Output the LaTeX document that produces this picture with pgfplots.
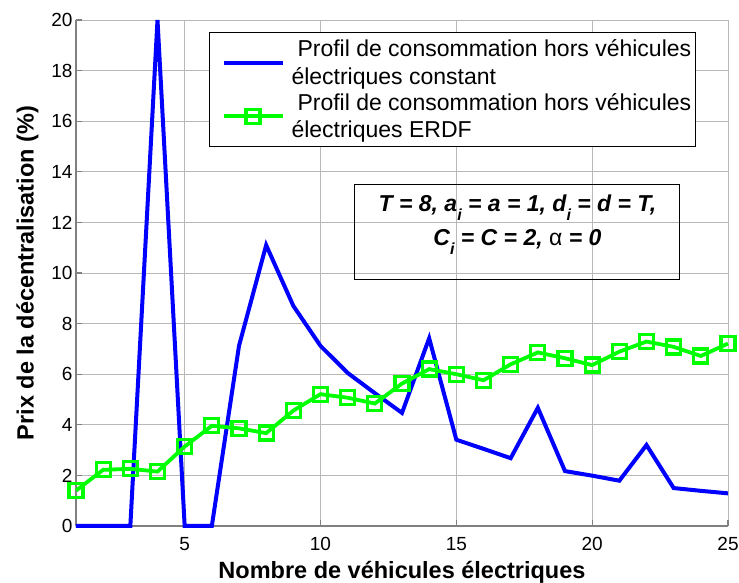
\documentclass[border=0pt]{standalone}
\usepackage{pgfplots}
\pgfplotsset{compat=1.18}
\usepackage{fontspec}
\setmainfont{Liberation Sans}

\definecolor{mblue}{RGB}{0,0,255}
\definecolor{mgreen}{RGB}{0,255,0}
\definecolor{axgrey}{RGB}{128,128,128}
\newcommand\sub[1]{\raisebox{-9pt}{\fontsize{16}{16}\selectfont #1}}

\begin{document}
\begin{tikzpicture}
\path[use as bounding box] (-76pt,-57pt) rectangle (663pt,526pt);
\begin{axis}[
  at={(0pt,0pt)}, anchor=south west,
  scale only axis, width=652pt, height=506pt,
  xmin=1, xmax=25, ymin=0, ymax=20,
  xtick={5,10,15,20,25}, ytick={0,2,...,20},
  axis x line*=bottom, axis y line*=left,
  axis line style={draw=axgrey, line width=1.2pt, -},
  tick align=inside, major tick length=6pt,
  major tick style={draw=axgrey, line width=1.2pt},
  grid=major,
  major grid style={draw=black!28, line width=0.8pt},
  clip=false,
  /pgf/number format/assume math mode=true,
  ticklabel style={font=\fontsize{19}{22}\selectfont},
  xticklabel style={anchor=base, yshift=-25pt},
  xlabel={Nombre de véhicules électriques},
  ylabel={Prix de la décentralisation (\%)},
  label style={font=\bfseries\fontsize{23.5}{28}\selectfont},
  xlabel style={at={(axis description cs:0.5,-0.10336)}, anchor=base},
  ylabel style={at={(axis description cs:-0.065,0.5)}, anchor=base},
  legend style={
    at={(0.204,0.9763)}, anchor=north west,
    draw=black, line width=1pt, fill=white,
    font=\fontsize{23}{27.3}\selectfont,
    inner xsep=4pt, inner ysep=7.5pt,
    row sep=7.8pt, column sep=7pt,
    nodes={inner sep=0pt},
    cells={align=left},
  },
  legend cell align=left,
  legend image code/.code={\path (-8pt,0pt); \draw[mark repeat=2,mark phase=2,#1] plot coordinates {(0pt,0pt) (29.5pt,0pt) (59pt,0pt)};},
]
\addplot[color=mblue, line width=4pt, no marks] coordinates {
(1,0) (2,0) (3,0) (4,20) (5,0) (6,0) (7,7.12) (8,11.1) (9,8.7) (10,7.12)
(11,6.05) (12,5.25) (13,4.47) (14,7.42) (15,3.41) (16,3.05) (17,2.68) (18,4.67)
(19,2.17) (20,1.99) (21,1.79) (22,3.2) (23,1.5) (24,1.39) (25,1.29)
};
\addlegendentry{\hspace*{6pt}Profil de consommation hors véhicules\\électriques constant}
\addplot[color=mgreen, line width=3.8pt, mark=square, mark size=7pt, mark options={line width=3.3pt, solid, fill=none}] coordinates {
(1,1.4) (2,2.22) (3,2.26) (4,2.15) (5,3.14) (6,3.96) (7,3.86) (8,3.67) (9,4.56) (10,5.21)
(11,5.07) (12,4.84) (13,5.63) (14,6.2) (15,6.0) (16,5.76) (17,6.39) (18,6.86)
(19,6.63) (20,6.36) (21,6.89) (22,7.29) (23,7.08) (24,6.72) (25,7.21)
};
\addlegendentry{\hspace*{6pt}Profil de consommation hors véhicules\\électriques ERDF}
\draw[black, line width=0.9pt] (rel axis cs:0.4264,0.4881) rectangle (rel axis cs:0.9248,0.6759);
\node[anchor=base, font=\bfseries\itshape\fontsize{23}{27}\selectfont, inner sep=0pt] at (rel axis cs:0.677,0.6206) {T = 8, a\sub{i} = a = 1, d\sub{i} = d = T,};
\node[anchor=base, font=\bfseries\itshape\fontsize{23}{27}\selectfont, inner sep=0pt] at (rel axis cs:0.677,0.5553) {C\sub{i} = C = 2, {\mdseries\upshape α} = 0};
\end{axis}
\end{tikzpicture}
\end{document}
